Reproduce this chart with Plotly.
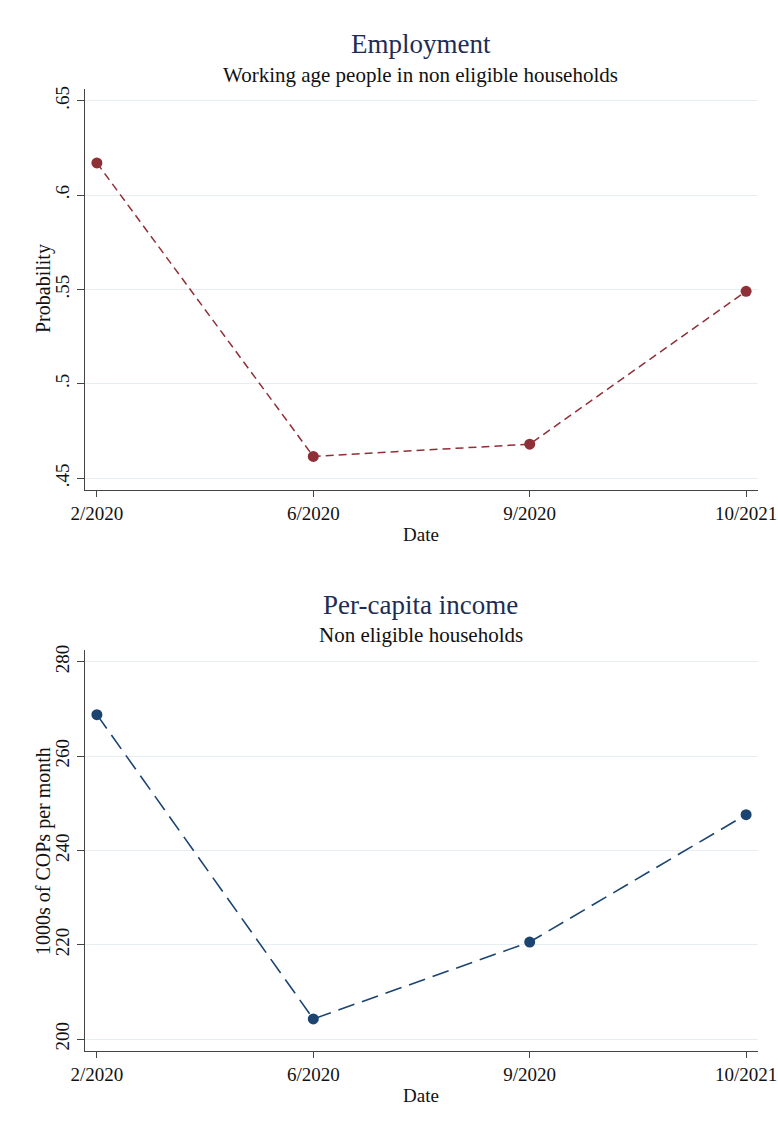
import plotly.graph_objects as go

dates = ["2/2020", "6/2020", "9/2020", "10/2021"]
employment = [0.617, 0.4615, 0.468, 0.549]
income = [268.8, 204.3, 220.6, 247.6]

emp_tickvals = [0.45, 0.5, 0.55, 0.6, 0.65]
emp_ticktext = [".45", ".5", ".55", ".6", ".65"]
inc_tickvals = [200, 220, 240, 260, 280]
inc_ticktext = ["200", "220", "240", "260", "280"]

W, H = 778, 1127
FONT = "Liberation Serif"
RED = "#8f3038"
BLUE = "#1b4470"
TITLE = "#1e2d54"
GRID = "#e6eef1"
AXIS = "#444444"

def px_x(p):
    return p / W

def px_y(p):
    return 1 - p / H

fig = go.Figure()
fig.add_trace(go.Scatter(x=list(range(len(dates))), y=employment, mode="lines+markers",
                         line=dict(color=RED, width=1.5, dash="8px,5px"),
                         marker=dict(color=RED, size=11), xaxis="x", yaxis="y",
                         showlegend=False))
fig.add_trace(go.Scatter(x=list(range(len(dates))), y=income, mode="lines+markers",
                         line=dict(color=BLUE, width=1.6, dash="17px,8px"),
                         marker=dict(color=BLUE, size=11), xaxis="x2", yaxis="y2",
                         showlegend=False))

xcommon = dict(tickmode="array", tickvals=list(range(len(dates))), ticktext=dates,
               range=[-0.055, 3.055], showline=True, linecolor=AXIS, linewidth=1.2,
               ticks="outside", ticklen=6, tickcolor=AXIS, showgrid=False, zeroline=False,
               tickfont=dict(family=FONT, size=19, color="#111111"), automargin=False,
               domain=[px_x(85), px_x(758)])

ycommon = dict(showline=True, linecolor=AXIS, linewidth=1.2, ticks="outside", ticklen=7,
               tickcolor=AXIS, showgrid=True, gridcolor=GRID, gridwidth=1.2, zeroline=False,
               tickangle=-90, tickfont=dict(family=FONT, size=19, color="#111111"),
               tickmode="array", automargin=False)

fig.update_layout(
    template="none",
    width=W, height=H, margin=dict(l=0, r=0, t=0, b=0, pad=0),
    paper_bgcolor="white", plot_bgcolor="white",
    xaxis=dict(**xcommon, anchor="y"),
    yaxis=dict(**ycommon, tickvals=emp_tickvals, ticktext=emp_ticktext,
               range=[0.4437, 0.6562], domain=[px_y(490), px_y(89)], anchor="x"),
    xaxis2=dict(**xcommon, anchor="y2"),
    yaxis2=dict(**ycommon, tickvals=inc_tickvals, ticktext=inc_ticktext,
                range=[197.5, 282.5], domain=[px_y(1051), px_y(650)], anchor="x2"),
)

def ann(text, x, y, size, color="#111111", angle=0):
    fig.add_annotation(text=text, x=px_x(x), y=px_y(y), xref="paper", yref="paper",
                       showarrow=False, textangle=angle, xanchor="center", yanchor="middle",
                       font=dict(family=FONT, size=size, color=color))

ann("Employment", 421, 44, 27, TITLE)
ann("Working age people in non eligible households", 421, 75, 21)
ann("Date", 421, 534, 19)
ann("Probability", 43, 289, 20, angle=-90)
ann("Per-capita income", 421, 605, 27, TITLE)
ann("Non eligible households", 421, 635, 21)
ann("Date", 421, 1095, 19)
ann("1000s of COPs per month", 43, 851, 20, angle=-90)

fig.write_html("out.html", config={"responsive": False, "displayModeBar": False},
               post_script="document.body.style.margin='0';document.body.style.overflow='hidden';")
